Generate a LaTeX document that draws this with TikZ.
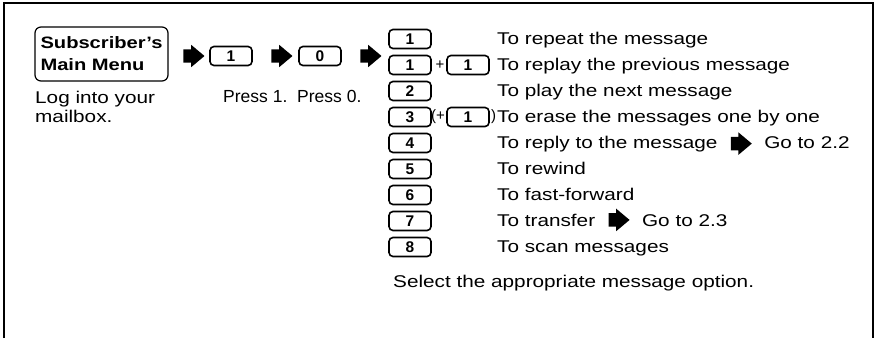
\documentclass[tikz,border=0pt]{standalone}
\usepackage{fontspec}
\setmainfont[FakeStretch=1.22]{Liberation Sans}
\newfontfamily\pressfont{Liberation Sans}
\usetikzlibrary{positioning}
\usetikzlibrary{shapes.arrows}

\begin{document}
\begin{tikzpicture}[x=1pt, y=-1pt,
    keybox/.style={draw, rounded corners=4pt, line width=1.6pt, minimum width=42pt,
      minimum height=19pt, inner sep=0pt, font=\pressfont\fontsize{15.5}{15.5}\selectfont\bfseries},
    goarrow/.style={single arrow, fill=black, draw=none, inner xsep=0pt, inner ysep=6.5pt,
      minimum height=21pt, single arrow head extend=4.5pt, single arrow tip angle=80},
    txt/.style={inner sep=0pt, anchor=base west, font=\fontsize{17}{19}\selectfont},
    sym/.style={inner sep=0pt, font=\pressfont\fontsize{15}{15}\selectfont}]
  \useasboundingbox (0,0) rectangle (876,338);

  % Frame
  \draw[line width=1.2pt] (4,338) -- (4,3) -- (873,3) -- (873,338);

  % Entry: menu -> 1 -> 0
  \node[draw, rounded corners=6pt, line width=1.2pt, minimum width=133pt, minimum height=54pt,
    align=left, font=\fontsize{16.5}{22}\selectfont\bfseries] (menu) at (101.5,54) {Subscriber's\\Main Menu};
  \node[txt, anchor=north west, align=left] (login) at (35,91) {Log into your\\mailbox.};

  \node[goarrow] (ar1) at (190,56) {};
  \node[keybox] (press1key) at (231,56) {1};
  \node[goarrow] (ar2) at (278,56) {};
  \node[keybox] (press0key) at (320,56) {0};
  \node[goarrow] (ar3) at (367,56) {};

  \node[txt, font=\pressfont\fontsize{17.5}{19}\selectfont] (press1) at (223,102) {Press 1.};
  \node[txt, font=\pressfont\fontsize{17.5}{19}\selectfont] (press0) at (297,102) {Press 0.};

  % Message options
  \foreach \k/\desc [count=\i from 0] in {1/To repeat the message, 1/To replay the previous message,
      2/To play the next message, 3/To erase the messages one by one, 4/To reply to the message,
      5/To rewind, 6/To fast-forward, 7/To transfer, 8/To scan messages} {
    \pgfmathsetmacro\ry{39+26*\i}
    \node[keybox] (key\i) at (410,\ry) {\k};
    \node[txt] (desc\i) at (497,\ry+5) {\desc};
  }

  % Extra keys
  \node[keybox] (key1b) at (468,65) {1};
  \node[sym, left=1.5pt of key1b] (plus) {+};
  \node[keybox] (key3b) at (468,117) {1};
  \node[sym, left=1pt of key3b] (paren) {(+};
  \node[sym, right=1pt of key3b] (close) {)};

  % Go to
  \node[goarrow, right=13pt of desc4] (go4) {};
  \node[txt] (goto4) at ([xshift=12pt]go4.east |- desc4.base) {Go to 2.2};
  \node[goarrow, right=13pt of desc7] (go7) {};
  \node[txt] (goto7) at ([xshift=12pt]go7.east |- desc7.base) {Go to 2.3};

  \node[txt] (select) at (393,287) {Select the appropriate message option.};
\end{tikzpicture}
\end{document}
